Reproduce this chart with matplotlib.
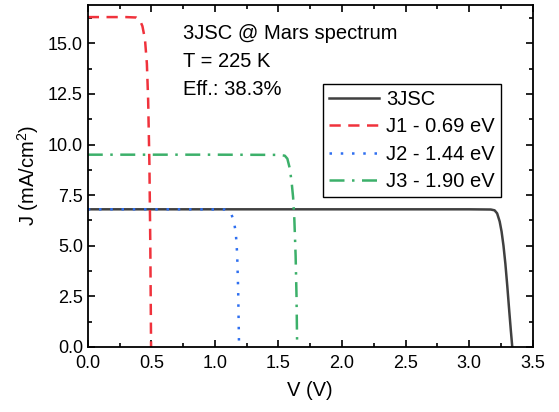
import numpy as np
import matplotlib
matplotlib.use('Agg')
import matplotlib.pyplot as plt

# 字体设置
plt.rcParams['font.family'] = ['Liberation Sans', 'DejaVu Sans']
plt.rcParams['mathtext.fontset'] = 'custom'
plt.rcParams['mathtext.rm'] = 'Liberation Sans'

# ———————— 数据 ————————
# 三结电池 3JSC
v_3jsc = [0.0, 1.0, 2.0, 3.0, 3.17, 3.20, 3.22, 3.24, 3.255, 3.27, 3.285, 3.30, 3.315, 3.328, 3.339]
j_3jsc = [6.80, 6.80, 6.80, 6.80, 6.79, 6.75, 6.60, 6.20, 5.70, 5.00, 4.10, 3.00, 1.80, 0.80, 0.0]

# 子电池 J1 - 0.69 eV
v_j1 = [0.0, 0.30, 0.38, 0.41, 0.43, 0.45, 0.465, 0.475, 0.485, 0.492, 0.498]
j_j1 = [16.30, 16.30, 16.28, 16.15, 15.85, 15.20, 14.00, 12.20, 9.00, 5.00, 0.0]

# 子电池 J2 - 1.44 eV
v_j2 = [0.0, 0.80, 1.08, 1.11, 1.13, 1.15, 1.165, 1.175, 1.183, 1.19]
j_j2 = [6.80, 6.80, 6.79, 6.72, 6.55, 6.20, 5.60, 4.60, 2.80, 0.0]

# 子电池 J3 - 1.90 eV
v_j3 = [0.0, 1.00, 1.50, 1.55, 1.57, 1.59, 1.605, 1.615, 1.625, 1.635, 1.642, 1.647]
j_j3 = [9.50, 9.50, 9.49, 9.45, 9.30, 8.80, 8.05, 7.40, 6.30, 4.50, 2.50, 0.0]

labels = ['3JSC', 'J1 - 0.69 eV', 'J2 - 1.44 eV', 'J3 - 1.90 eV']

# ———————— 绘图 ————————
fig = plt.figure(figsize=(5.59, 4.12), dpi=100)
ax = fig.add_axes([0.157, 0.158, 0.796, 0.830])

ax.plot(v_3jsc, j_3jsc, color='#404040', lw=1.8, label=labels[0])
ax.plot(v_j1, j_j1, color='#F0323C', lw=1.8, ls=(0, (4.5, 3)), label=labels[1])
ax.plot(v_j2, j_j2, color='#2E6FF0', lw=1.8, ls=(0, (1, 3.5)), label=labels[2])
ax.plot(v_j3, j_j3, color='#3CB06A', lw=1.8, ls=(0, (6, 3, 1, 3)), label=labels[3])

ax.set_xlim(0, 3.5)
ax.set_ylim(0, 16.9)
ax.set_xticks(np.arange(0, 3.51, 0.5))
ax.set_yticks(np.arange(0, 16.9, 2.5))
ax.set_xticks(np.arange(0.25, 3.5, 0.5), minor=True)
ax.set_yticks(np.arange(1.25, 16.9, 2.5), minor=True)
ax.tick_params(which='both', direction='in', top=True, right=True, width=1.2, labelsize=13)
ax.tick_params(which='major', length=5)
ax.tick_params(which='minor', length=3)
ax.tick_params(axis='x', which='major', pad=5.5)
for s in ax.spines.values():
    s.set_linewidth(1.3)

ax.set_xlabel('V (V)', fontsize=14.5, labelpad=7)
ax.set_ylabel('J (mA/cm$^2$)', fontsize=14.5, labelpad=5)

ax.text(0.213, 0.901, '3JSC @ Mars spectrum', transform=ax.transAxes, fontsize=14.5)
ax.text(0.213, 0.819, 'T = 225 K', transform=ax.transAxes, fontsize=14.5)
ax.text(0.213, 0.737, 'Eff.: 38.3%', transform=ax.transAxes, fontsize=14.5)

leg = ax.legend(loc='upper left', bbox_to_anchor=(0.528, 0.77), borderaxespad=0,
                fontsize=14.5, fancybox=False, framealpha=1, edgecolor='black',
                handlelength=2.5, labelspacing=0.42, handletextpad=0.35, borderpad=0.3)
leg.get_frame().set_linewidth(1.0)

plt.savefig('out.png', dpi=100)
